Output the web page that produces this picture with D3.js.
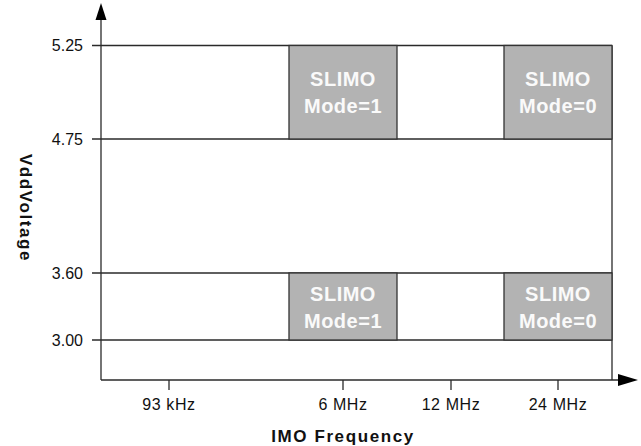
<!DOCTYPE html>
<html lang="en">
<head>
<meta charset="UTF-8">
<title>IMO Frequency vs Vdd Voltage</title>
<script src="https://cdn.jsdelivr.net/npm/d3@7"></script>
<style>
    body { margin: 0; background: #fff; }
    text { font-family: "Liberation Sans", Arial, sans-serif; fill: #111; }
    .grid { stroke: #2a2a2a; stroke-width: 1.3px; }
    .box { fill: #b3b3b3; stroke: #333; stroke-width: 1.3px; }
    .box-label { fill: #fafafa; font-weight: bold; font-size: 20px; text-anchor: middle; letter-spacing: 0.5px; }
    .tick-label { font-size: 16px; }
    .title { font-size: 17px; font-weight: bold; letter-spacing: 1.6px; text-anchor: middle; }
</style>
</head>
<body>
<div id="diagram"></div>
<script>
// y axis: voltage levels
var voltTicks = [3.00, 3.60, 4.75, 5.25];
var voltLabels = ["3.00", "3.60", "4.75", "5.25"];
// x axis: frequencies
var freqLabels = ["93 kHz", "6 MHz", "12 MHz", "24 MHz"];
// operating regions
var boxFreq = ["6 MHz", "24 MHz", "6 MHz", "24 MHz"];
var boxVLow = [4.75, 4.75, 3.00, 3.00];
var boxVHigh = [5.25, 5.25, 3.60, 3.60];
var boxMode = [1, 0, 1, 0];

var width = 641, height = 446;
var axisX = 101, axisY = 380;

var svg = d3.select("#diagram").append("svg")
    .attr("width", width)
    .attr("height", height);

// both axes are not to scale, so piecewise scales
var y = d3.scaleLinear()
    .domain(voltTicks)
    .range([340, 273, 139, 45.5]);

var x = d3.scaleLinear()
    .domain(d3.range(freqLabels.length))
    .range([169, 343, 451, 558]);

var xf = function (f) { return x(freqLabels.indexOf(f)); };
var half = (x(2) - x(1)) / 2;
var plotRight = x(3) + half;

// horizontal level lines
svg.selectAll(".grid-h")
    .data(voltTicks)
    .enter()
    .append("line")
    .attr("class", "grid")
    .attr("x1", axisX - 9)
    .attr("x2", plotRight)
    .attr("y1", function (d) { return y(d); })
    .attr("y2", function (d) { return y(d); });

// right border
svg.append("line")
    .attr("class", "grid")
    .attr("x1", plotRight).attr("x2", plotRight)
    .attr("y1", y(voltTicks[voltTicks.length - 1])).attr("y2", axisY);

// boxes
var boxes = svg.selectAll(".region")
    .data(boxFreq.map(function (f, i) {
        return {freq: f, lo: boxVLow[i], hi: boxVHigh[i], mode: boxMode[i]};
    }))
    .enter()
    .append("g")
    .attr("class", "region");

boxes.append("rect")
    .attr("class", "box")
    .attr("x", function (d) { return xf(d.freq) - half; })
    .attr("width", half * 2)
    .attr("y", function (d) { return y(d.hi); })
    .attr("height", function (d) { return y(d.lo) - y(d.hi); });

boxes.append("text")
    .attr("class", "box-label")
    .attr("x", function (d) { return xf(d.freq); })
    .attr("y", function (d) { return (y(d.lo) + y(d.hi)) / 2 - 6; })
    .text("SLIMO");

boxes.append("text")
    .attr("class", "box-label")
    .attr("x", function (d) { return xf(d.freq); })
    .attr("y", function (d) { return (y(d.lo) + y(d.hi)) / 2 + 21; })
    .text(function (d) { return "Mode=" + d.mode; });

// axes lines
svg.append("line")
    .attr("class", "grid")
    .attr("x1", axisX).attr("x2", axisX)
    .attr("y1", axisY).attr("y2", 16);
svg.append("line")
    .attr("class", "grid")
    .attr("x1", axisX).attr("x2", 622)
    .attr("y1", axisY).attr("y2", axisY);

// arrow heads
svg.append("path")
    .attr("d", "M" + axisX + ",3L" + (axisX - 5.5) + ",20L" + (axisX + 5.5) + ",20Z")
    .attr("fill", "#000");
svg.append("path")
    .attr("d", "M638," + axisY + "L618," + (axisY - 6) + "L618," + (axisY + 6) + "Z")
    .attr("fill", "#000");

// y tick labels
svg.selectAll(".ylab")
    .data(voltTicks)
    .enter()
    .append("text")
    .attr("class", "tick-label")
    .attr("text-anchor", "end")
    .attr("x", 83)
    .attr("y", function (d) { return y(d); })
    .attr("dy", "0.36em")
    .text(function (d, i) { return voltLabels[i]; });

// x ticks
svg.selectAll(".xtick")
    .data(freqLabels)
    .enter()
    .append("line")
    .attr("class", "grid")
    .attr("x1", function (d) { return xf(d); })
    .attr("x2", function (d) { return xf(d); })
    .attr("y1", axisY)
    .attr("y2", axisY + 10);

svg.selectAll(".xlab")
    .data(freqLabels)
    .enter()
    .append("text")
    .attr("class", "tick-label")
    .attr("text-anchor", "middle")
    .attr("letter-spacing", "0.6px")
    .attr("x", function (d) { return xf(d); })
    .attr("y", 410)
    .text(function (d) { return d; });

// axis titles
svg.append("text")
    .attr("class", "title")
    .attr("x", 343)
    .attr("y", 442)
    .text("IMO Frequency");

svg.append("text")
    .attr("class", "title")
    .attr("transform", "translate(20,208) rotate(90)")
    .text("VddVoltage");
</script>
</body>
</html>
